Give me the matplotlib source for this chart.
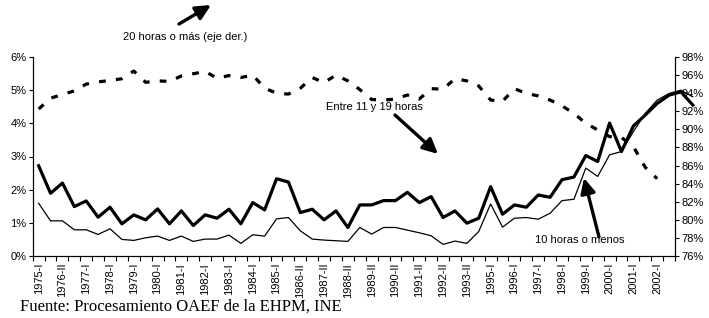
import matplotlib
matplotlib.use("Agg")
import matplotlib.pyplot as plt
import numpy as np
from matplotlib.ticker import FuncFormatter, FixedLocator

# ---- data -------------------------------------------------------------
tick_labels = ["1975-I", "1976-II", "1977-I", "1978-I", "1979-I", "1980-I", "1981-I",
               "1982-I", "1983-I", "1984-I", "1985-I", "1986-II", "1987-II", "1988-II",
               "1989-II", "1990-II", "1991-II", "1992-II", "1993-II", "1995-I", "1996-I",
               "1997-I", "1998-I", "1999-I", "2000-I", "2001-I", "2002-I"]
n_categories = 54

entre_11_19 = [2.72, 1.89, 2.20, 1.49, 1.66, 1.17, 1.47, 0.97, 1.24, 1.09,
               1.42, 0.97, 1.36, 0.92, 1.24, 1.14, 1.41, 0.97, 1.61, 1.39,
               2.33, 2.23, 1.31, 1.41, 1.09, 1.36, 0.86, 1.54, 1.54, 1.67,
               1.67, 1.92, 1.61, 1.79, 1.16, 1.36, 0.99, 1.14, 2.09, 1.26,
               1.54, 1.47, 1.84, 1.77, 2.30, 2.38, 3.03, 2.85, 4.01, 3.15,
               3.92, 4.25, 4.60, 4.85, 4.95, 4.55]

diez_o_menos = [1.59, 1.06, 1.06, 0.79, 0.79, 0.65, 0.82, 0.50, 0.47, 0.55,
                0.60, 0.47, 0.60, 0.44, 0.51, 0.51, 0.63, 0.38, 0.64, 0.60,
                1.12, 1.16, 0.76, 0.51, 0.48, 0.46, 0.44, 0.86, 0.66, 0.86,
                0.86, 0.78, 0.70, 0.61, 0.35, 0.45, 0.38, 0.74, 1.57, 0.87,
                1.14, 1.16, 1.11, 1.29, 1.67, 1.71, 2.65, 2.40, 3.05, 3.15,
                3.75, 4.30, 4.70, 4.90, 5.00, 4.80]

veinte_o_mas = [92.25, 93.45, 93.85, 94.26, 95.00, 95.25, 95.40, 95.60, 96.45, 95.20,
                95.36, 95.30, 95.90, 96.15, 96.40, 95.65, 95.95, 95.73, 96.00, 94.55,
                94.00, 93.90, 94.55, 95.73, 95.17, 96.00, 95.36, 94.40, 93.30, 93.24,
                93.35, 93.80, 93.35, 94.50, 94.44, 95.60, 95.36, 94.80, 93.24, 93.10,
                94.50, 93.97, 93.70, 93.24, 92.60, 91.77, 90.67, 89.94, 89.20, 89.10,
                88.10, 85.80, 84.55]

# ---- figure -----------------------------------------------------------
W, H = 709, 318
fig = plt.figure(figsize=(W / 100, H / 100), dpi=100)
plt.rcParams['font.family'] = ['Liberation Sans', 'DejaVu Sans']

def fx(px):
    return px / W

def fy(py):
    return 1 - py / H

ax = fig.add_axes([fx(32.7), fy(256), fx(675) - fx(32.7), fy(57) - fy(256)])
ax2 = ax.twinx()

x_solid = np.arange(len(entre_11_19))
x_dash = np.arange(len(veinte_o_mas))

ax.plot(x_solid, np.array(diez_o_menos) / 100, color='black', lw=0.9, clip_on=False, zorder=3)
ax.plot(x_solid, np.array(entre_11_19) / 100, color='black', lw=2.3, clip_on=False, zorder=4)
ax2.plot(x_dash, np.array(veinte_o_mas) / 100, color='black', lw=2.3,
         linestyle=(0, (2.1, 3.2)), dash_capstyle='butt', zorder=3)

ax.set_xlim(-0.5, n_categories - 0.5)
ax.set_ylim(0, 0.06)
ax2.set_ylim(0.76, 0.98)

ax.set_yticks(np.arange(0, 0.061, 0.01))
ax.yaxis.set_major_formatter(FuncFormatter(lambda v, p: f"{v*100:.0f}%"))
ax2.set_yticks(np.arange(0.76, 0.981, 0.02))
ax2.yaxis.set_major_formatter(FuncFormatter(lambda v, p: f"{v*100:.0f}%"))

label_pos = np.arange(0, 2 * len(tick_labels), 2)
ax.set_xticks(label_pos)
ax.set_xticklabels(tick_labels, rotation=90, fontsize=8)
ax.xaxis.set_minor_locator(FixedLocator(np.arange(-0.5, n_categories, 1.0)))
ax.tick_params(axis='x', which='major', length=0, pad=5)
ax.tick_params(axis='x', which='minor', length=3.5, width=0.8, direction='out')
ax.tick_params(axis='y', which='major', length=3, width=0.8, direction='out', labelsize=8, pad=1.5)
ax2.tick_params(axis='y', which='major', length=3, width=0.8, direction='out', labelsize=8, pad=1.5)

for a in (ax, ax2):
    a.spines['top'].set_visible(False)
    for s in ('left', 'right', 'bottom'):
        a.spines[s].set_linewidth(0.8)
        a.spines[s].set_color('black')
    a.set_facecolor('none')

# ---- annotations ------------------------------------------------------
def arrow(p0, p1):
    fig.add_artist(matplotlib.patches.FancyArrowPatch(
        (fx(p0[0]), fy(p0[1])), (fx(p1[0]), fy(p1[1])), transform=fig.transFigure,
        arrowstyle='-|>,head_length=0.45,head_width=0.22', mutation_scale=20,
        lw=2.4, color='black', shrinkA=0, shrinkB=0))

fig.text(fx(185), fy(37), "20 horas o más (eje der.)", ha='center', va='center', fontsize=8)
arrow((179, 24), (211, 5))

fig.text(fx(374), fy(107), "Entre 11 y 19 horas", ha='center', va='center', fontsize=8, zorder=1)
arrow((395, 115), (438, 154))

fig.text(fx(580), fy(240), "10 horas o menos", ha='center', va='center', fontsize=8)
arrow((599, 237), (584, 178))

fig.text(fx(20), fy(307), "Fuente: Procesamiento OAEF de la EHPM, INE", ha='left', va='center',
         fontsize=12, family=['Liberation Serif', 'DejaVu Serif'])

fig.savefig("out.png", dpi=100, facecolor='white')
